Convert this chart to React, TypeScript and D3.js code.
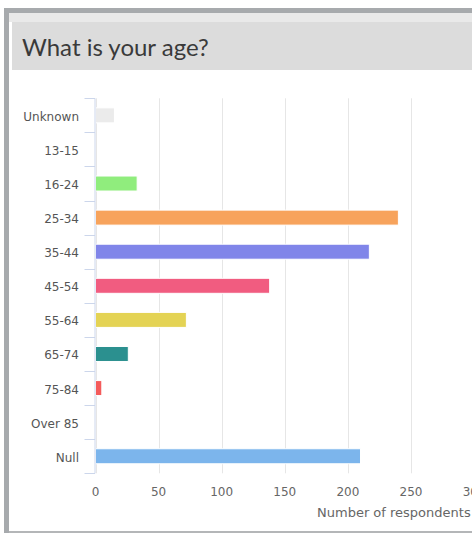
import React, { useEffect } from "react";
import * as d3 from "d3";

const categories = ["Unknown", "13-15", "16-24", "25-34", "35-44", "45-54", "55-64", "65-74", "75-84", "Over 85", "Null"];
const values = [15, 0, 33, 240, 217, 138, 72, 26, 5, 0, 210];
const colors = ["#ebebeb", "#ffffff", "#90ed7d", "#f7a35c", "#8085e9", "#f15c80", "#e4d354", "#2b908f", "#f45b5b", "#ffffff", "#7cb5ec"];
const xTicks = [0, 50, 100, 150, 200, 250, 300];
const title = "What is your age?";
const xTitle = "Number of respondents";

const W = 472;
const H = 533;
const plotLeft = 95.5;
const plotRight = 474.1;
const plotTop = 98.3;
const plotBottom = 473.3;
const FONT = "'DejaVu Sans', Verdana, sans-serif";

export default function App() {
  useEffect(() => {
    document.body.style.margin = "0";
  }, []);

  const x = d3.scaleLinear().domain([0, 300]).range([plotLeft, plotRight]);
  const y = d3.scaleBand<string>().domain(categories).range([plotTop, plotBottom]);
  const bw = y.bandwidth();
  const barH = 15;
  const boundaries = categories.map((c) => y(c) as number).concat([plotBottom]);

  return (
    <svg width={W} height={H} style={{ display: "block" }}>
      <rect x={0} y={0} width={W} height={H} fill="#ffffff" />
      {/* frame */}
      <rect x={4} y={8} width={W - 4} height={5} fill="#a7aaad" />
      <rect x={4} y={8} width={5} height={H - 8} fill="#a7aaad" />
      <rect x={9} y={13} width={W - 9} height={9} fill="#e9e9e9" />
      <rect x={12} y={22} width={W - 12} height={48} fill="#dcdcdc" />
      <rect x={9} y={531} width={W - 9} height={2} fill="#b4b6b8" />
      <text x={22} y={56} fontFamily="Lato, 'Open Sans', sans-serif" fontSize={24} fill="#3a3a3a">{title}</text>

      {/* grid */}
      {xTicks.map((t) => (
        <line key={"g" + t} x1={Math.round(x(t)) + 0.5} x2={Math.round(x(t)) + 0.5} y1={plotTop} y2={plotBottom} stroke="#e6e6e6" strokeWidth={1} />
      ))}

      {/* bars */}
      {categories.map((c, i) =>
        values[i] > 0 ? (
          <rect
            key={"b" + c}
            x={x(0)}
            y={(y(c) as number) + bw / 2 - barH / 2}
            width={x(values[i]) - x(0)}
            height={barH}
            fill={colors[i]}
            stroke="#ffffff"
            strokeWidth={1}
          />
        ) : null
      )}

      {/* y axis */}
      <line x1={plotLeft - 0.5} x2={plotLeft - 0.5} y1={plotTop} y2={plotBottom} stroke="#ccd6eb" strokeWidth={1} />
      {boundaries.map((b, i) => (
        <line key={"t" + i} x1={plotLeft - 11} x2={plotLeft - 0.5} y1={Math.round(b) + 0.5} y2={Math.round(b) + 0.5} stroke="#ccd6eb" strokeWidth={1} />
      ))}
      {categories.map((c) => (
        <text key={"l" + c} x={79} y={(y(c) as number) + bw / 2 + 5.5} textAnchor="end" fontFamily={FONT} fontSize={12} fill="#555555">
          {c}
        </text>
      ))}

      {/* x axis labels */}
      {xTicks.map((t) => (
        <text key={"x" + t} x={x(t)} y={496} textAnchor="middle" fontFamily={FONT} fontSize={12} fill="#666666">
          {t}
        </text>
      ))}
      <text x={317} y={517} fontFamily={FONT} fontSize={13} fill="#666666">{xTitle}</text>
    </svg>
  );
}
